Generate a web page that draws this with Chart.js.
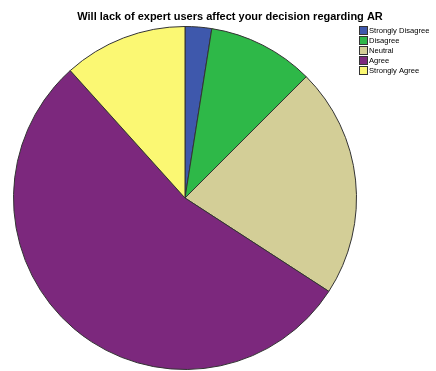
<!DOCTYPE html>
<html>
<head>
<meta charset="utf-8">
<script src="https://cdn.jsdelivr.net/npm/chart.js@4.4.0/dist/chart.umd.min.js"></script>
<style>
  html, body { margin: 0; padding: 0; background: #fff; }
  #wrap { width: 436px; height: 371px; }
</style>
</head>
<body>
<div id="wrap"><canvas id="pieChart" width="436" height="371"></canvas></div>
<script>
const chartTitle = 'Will lack of expert users affect your decision regarding AR';
const categories = ['Strongly Disagree', 'Disagree', 'Neutral', 'Agree', 'Strongly Agree'];
const counts = [3, 12, 26, 65, 14];
const sliceColors = ['#3e58ac', '#2eb848', '#d3ce97', '#7c287d', '#fbf873'];

// title + legend drawn by hand so they sit where SPSS puts them
const overlay = {
    id: 'overlay',
    afterDraw(chart) {
        const ctx = chart.ctx;
        ctx.save();
        ctx.fillStyle = '#000';
        ctx.font = 'bold 11px "Liberation Sans", Arial, sans-serif';
        ctx.textAlign = 'center';
        ctx.textBaseline = 'middle';
        ctx.fillText(chartTitle, 230, 17);

        ctx.font = '7.6px "Liberation Sans", Arial, sans-serif';
        ctx.textAlign = 'left';
        chart.data.labels.forEach((label, i) => {
            const y = 31 + i * 10;
            ctx.fillStyle = sliceColors[i];
            ctx.fillRect(360, y - 4, 7, 7);
            ctx.strokeStyle = '#333';
            ctx.lineWidth = 1;
            ctx.strokeRect(359.5, y - 4.5, 8, 8);
            ctx.fillStyle = '#000';
            ctx.fillText(label, 369, y);
        });
        ctx.restore();
    }
};

new Chart(document.getElementById('pieChart'), {
    type: 'pie',
    data: {
        labels: categories,
        datasets: [{
            data: counts,
            backgroundColor: sliceColors,
            borderColor: '#333',
            borderWidth: 1
        }]
    },
    options: {
        responsive: false,
        animation: false,
        layout: { padding: { left: 13, right: 79, top: 26, bottom: 1 } },
        plugins: {
            legend: { display: false },
            title: { display: false },
            tooltip: { enabled: false }
        }
    },
    plugins: [overlay]
});
</script>
</body>
</html>
